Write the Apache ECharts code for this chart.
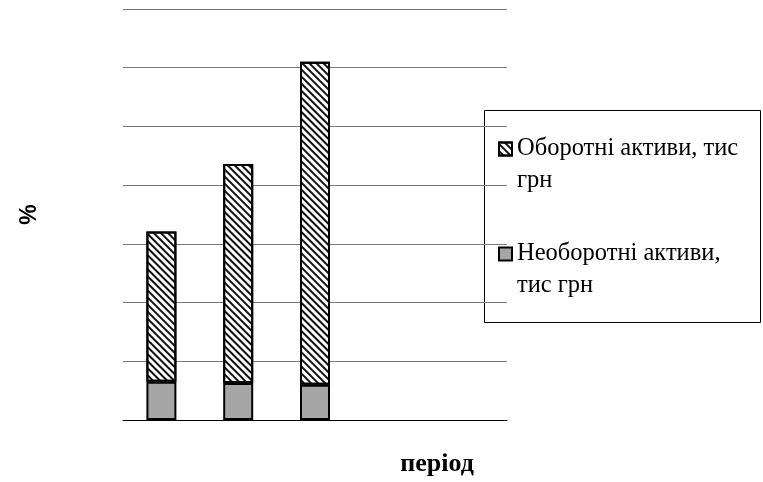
<!DOCTYPE html>
<html>
<head>
<meta charset="utf-8">
<script src="https://cdn.jsdelivr.net/npm/echarts@6/dist/echarts.min.js"></script>
<style>html,body{margin:0;padding:0;background:#fff}#c{width:763px;height:482px}</style>
</head>
<body>
<div id="c"></div>
<script>
var categories = ['1', '2', '3', '4', '5'];
var currentAssets = [25.6, 37.3, 55.0, null, null];     // Оборотні активи, тис грн
var fixedAssets = [6.5, 6.3, 6.0, null, null];          // Необоротні активи, тис грн
var seriesNames = ['Оборотні активи, тис грн', 'Необоротні активи, тис грн'];
var legendLines = {
  'Оборотні активи, тис грн': 'Оборотні активи, тис\nгрн',
  'Необоротні активи, тис грн': 'Необоротні активи,\nтис грн'
};
var yMin = 0, yMax = 70, yStep = 10;

var chart = echarts.init(document.getElementById('c'), null, {renderer: 'canvas'});
var L = 32;
chart.setOption({
  animation: false,
  backgroundColor: '#fff',
  grid: {left: 123, right: 256, top: 9, bottom: 59, containLabel: false},
  xAxis: {
    type: 'category',
    data: categories,
    axisLine: {show: true, lineStyle: {color: '#000', width: 1}},
    axisTick: {show: false},
    axisLabel: {show: false},
    name: 'період',
    nameLocation: 'middle',
    nameGap: 31,
    nameTextStyle: {fontFamily: 'Liberation Serif', fontWeight: 'bold', fontSize: 26, color: '#000', padding: [0, 0, 0, 244]}
  },
  yAxis: {
    type: 'value',
    min: yMin, max: yMax, interval: yStep,
    axisLine: {show: false},
    axisTick: {show: false},
    axisLabel: {show: false},
    splitLine: {lineStyle: {color: '#7a7a7a', width: 1}},
    name: '%',
    nameLocation: 'middle',
    nameGap: 82,
    nameRotate: 90,
    nameTextStyle: {fontFamily: 'Liberation Sans', fontWeight: 'bold', fontSize: 23, color: '#000'}
  },
  legend: {
    orient: 'vertical',
    left: 498,
    top: 101,
    padding: 0,
    itemGap: 9,
    itemWidth: 13,
    itemHeight: 13,
    itemTextGap: 6,
    icon: 'rect',
    data: seriesNames,
    formatter: function (n) { return '\n' + legendLines[n]; },
    textStyle: {fontFamily: 'Liberation Serif', fontSize: 24.5, color: '#000', lineHeight: L}
  },
  graphic: [{
    type: 'rect',
    shape: {x: 484.5, y: 110.5, width: 276, height: 212},
    style: {fill: null, stroke: '#000', lineWidth: 1},
    z: 0
  }],
  series: [
    {
      name: seriesNames[1],
      type: 'bar',
      stack: 'a',
      data: fixedAssets,
      barWidth: 30,
      itemStyle: {color: '#a6a6a6', borderColor: '#000', borderWidth: 2}
    },
    {
      name: seriesNames[0],
      type: 'bar',
      stack: 'a',
      data: currentAssets,
      barWidth: 30,
      itemStyle: {
        color: '#fff', borderColor: '#000', borderWidth: 2,
        decal: {symbol: 'rect', symbolSize: 1, color: '#111', dashArrayX: [[1, 0]], dashArrayY: [1.6, 2.4], rotation: Math.PI / 4}
      }
    }
  ]
});
</script>
</body>
</html>
